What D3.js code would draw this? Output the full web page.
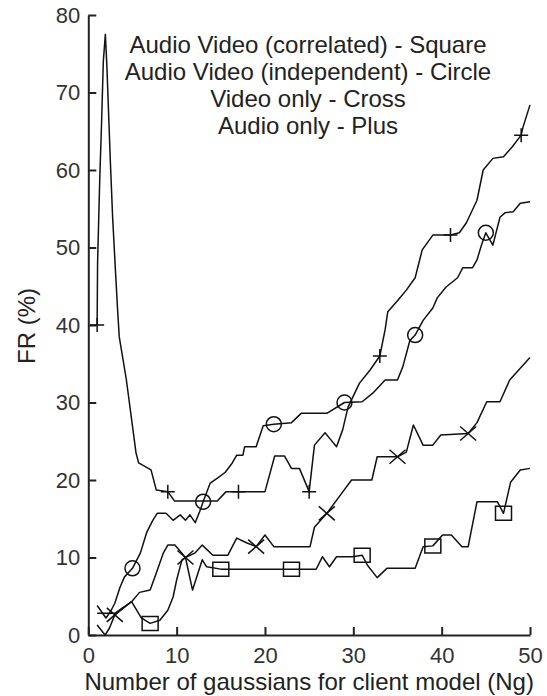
<!DOCTYPE html>
<html>
<head>
<meta charset="utf-8">
<script src="https://cdn.jsdelivr.net/npm/d3@7"></script>
<style>
	body { margin: 0; background: #fff; }
	svg text { font-family: "Liberation Sans", Arial, sans-serif; fill: #222; }
</style>
</head>
<body>
<div id="chart"></div>
<script>

// FR (%) vs number of gaussians as [Ng, FR]
var audioOnly = [[1,40],[1.05,48],[1.3,59],[1.5,66],[1.7,74],[1.93,77.5],[2.1,73.5],[2.5,61],[2.75,54],[3.05,47.5],[3.3,42.3],[3.5,38.5],[4.3,33],[5.4,23.5],[5.7,22.2],[7.1,21.3],[7.7,18.7],[9,18.5],[9.75,17.3],[14.6,17.3],[15.6,18.5],[17,18.5],[20,18.5],[21.1,23.1],[22.2,23.1],[23,21.5],[23.9,21.5],[25,18.5],[25.6,24.5],[26.8,26.1],[27.3,25.4],[28.1,24.3],[28.8,26.5],[29.4,29.4],[30.7,32.5],[31.9,34.2],[33,36],[33.6,39.4],[33.9,41.7],[34.9,43],[36,44.5],[37,46.1],[37.8,49.7],[39,51.6],[41,51.6],[42,51.9],[42.8,53.2],[44,56.1],[44.7,60],[45.8,61.5],[47,61.7],[48,63],[49,64.5],[49.2,65.5],[50,68.4]];

var avIndep = [[1,3.8],[2,2.2],[2.5,3],[3,4.1],[3.6,6.2],[4.1,7.5],[5,8.6],[5.9,10.6],[6.6,13.2],[7.3,14.8],[7.8,15.7],[8.8,15.7],[9.6,14.8],[10.4,15.5],[11,14.8],[11.5,15.5],[12.1,14.5],[12.6,15.9],[13,17.2],[13.8,19.6],[14.7,20.3],[15.5,21],[16.3,22.2],[16.8,23.2],[17.5,23.2],[17.7,24.3],[19,24.3],[19.8,27],[21,27.2],[23,27.4],[24.1,28.6],[27,28.6],[29,30],[31,30.1],[32.2,31.2],[33.6,32.9],[35,32.9],[35.6,34.6],[36.4,38],[37,38.7],[37.9,40.6],[39,42.2],[39.5,43.5],[40.5,44.9],[41.8,46.1],[42.4,47.4],[43.5,47.4],[44,48.4],[44.5,50.3],[45,51.9],[45.8,50.3],[46.6,53.9],[47.2,54.5],[48.1,54.6],[48.9,55.7],[50,55.9]];

var videoOnly = [[1,1.3],[1.9,0],[2.4,0.9],[3,2.6],[4.9,4.3],[5.8,5.5],[7,5.8],[7.7,8],[8.5,10.6],[9,11.6],[9.8,11.6],[11,10],[12.1,10.6],[12.9,11.6],[14.1,10.3],[15.8,10.3],[16.8,12.5],[17.9,11.9],[19,11.4],[20,12.9],[21,11.4],[25.1,11.4],[25.6,13.9],[27,15.7],[28.7,18.3],[29.8,20],[32.1,20],[32.7,23],[35,23],[36,23.6],[36.8,27.1],[37.9,24.5],[39,24.5],[39.9,25.8],[43,26],[44,27.4],[45.1,30.1],[46.6,30.1],[47.7,32.9],[50,35.8]];

var avCorr = [[1,2.8],[3,2.8],[4.9,4.3],[6,2.2],[7,1.5],[8.1,1.9],[9,3.2],[9.6,4.9],[10,7.1],[10.6,9.7],[11,10],[11.8,5.8],[12.9,9.7],[13.4,8.8],[15,8.5],[23,8.5],[25.8,8.5],[26.5,10.1],[27.3,8.8],[28.1,10.1],[29.9,10.1],[31,10.3],[31.6,9],[32.7,7.4],[33.8,8.6],[37,8.6],[37.9,11.4],[39,11.5],[40.1,12.9],[41.1,12.9],[42.3,11.4],[43,11.4],[44,17.2],[46.3,17.2],[47,15.7],[47.8,19.7],[48.9,21.3],[50,21.5]];

// Ng values where the markers sit
var plusAt   = [1, 9, 17, 25, 33, 41, 49];
var circleAt = [5, 13, 21, 29, 37, 45];
var crossAt  = [3, 11, 19, 27, 35, 43];
var squareAt = [7, 15, 23, 31, 39, 47];

var legendLines = [
	"Audio Video (correlated) - Square",
	"Audio Video (independent) - Circle",
	"Video only - Cross",
	"Audio only - Plus"
];

var xTicks = [0, 10, 20, 30, 40, 50];
var yTicks = [0, 10, 20, 30, 40, 50, 60, 70, 80];

var W = 547, H = 696;

var svg = d3.select("#chart").append("svg")
	.attr("width", W)
	.attr("height", H);

var x = d3.scaleLinear([0, 50], [88.3, 530]);
var y = d3.scaleLinear([0, 80], [635, 15]);

var xaxis = d3.axisBottom(x).tickValues(xTicks).tickSizeInner(-8).tickSizeOuter(0).tickPadding(12);
var yaxis = d3.axisLeft(y).tickValues(yTicks).tickSizeInner(-8).tickSizeOuter(0).tickPadding(8);

var gx = svg.append("g").attr("transform", `translate(0,${y(0)})`).call(xaxis);
var gy = svg.append("g").attr("transform", `translate(${x(0)},0)`).call(yaxis);

[gx, gy].forEach(g => {
	g.select(".domain").attr("stroke", "#222").attr("stroke-width", 2);
	g.selectAll(".tick line").attr("stroke", "#222").attr("stroke-width", 2);
	g.selectAll(".tick text").attr("font-size", 22).attr("font-family", null).style("fill", "#333");
});

// curves
var line = d3.line(d => x(d[0]), d => y(d[1]));

var series = [
	{ data: audioOnly, marks: plusAt,   shape: "plus" },
	{ data: avIndep,   marks: circleAt, shape: "circle" },
	{ data: videoOnly, marks: crossAt,  shape: "cross" },
	{ data: avCorr,    marks: squareAt, shape: "square" }
];

svg.selectAll(".curve")
	.data(series)
	.join("path")
		.attr("class", "curve")
		.attr("fill", "none")
		.attr("stroke", "#111")
		.attr("stroke-width", 1.5)
		.attr("stroke-linejoin", "round")
		.attr("d", s => line(s.data));

function markPath(shape)	{
	if(shape === "plus")	return "M-7,0H7M0,-7V7";
	if(shape === "cross")	return "M-8,-7L8,7M-8,7L8,-7";
	if(shape === "square")	return "M-8,-7H8V7H-8Z";
	return d3.arc()({ innerRadius: 0, outerRadius: 7.5, startAngle: 0, endAngle: 2 * Math.PI });
}

series.forEach(s => {
	var pts = s.data.filter(d => s.marks.includes(d[0]));
	svg.selectAll(".m-" + s.shape)
		.data(pts)
		.join("path")
			.attr("class", "m-" + s.shape)
			.attr("transform", d => `translate(${x(d[0])},${y(d[1])})`)
			.attr("d", markPath(s.shape))
			.attr("fill", "none")
			.attr("stroke", "#111")
			.attr("stroke-width", 1.5);
});

// in-plot legend text
svg.append("g")
	.selectAll("text")
	.data(legendLines)
	.join("text")
		.attr("x", 308)
		.attr("y", (d, i) => 53 + i * 27)
		.attr("text-anchor", "middle")
		.attr("font-size", 24)
		.text(d => d);

// axis titles
svg.append("text")
	.attr("x", (x(0) + x(50)) / 2)
	.attr("y", 690)
	.attr("text-anchor", "middle")
	.attr("font-size", 24)
	.text("Number of gaussians for client model (Ng)");

svg.append("text")
	.attr("transform", `translate(35,${326}) rotate(-90)`)
	.attr("text-anchor", "middle")
	.attr("font-size", 24)
	.text("FR (%)");

</script>
</body>
</html>
